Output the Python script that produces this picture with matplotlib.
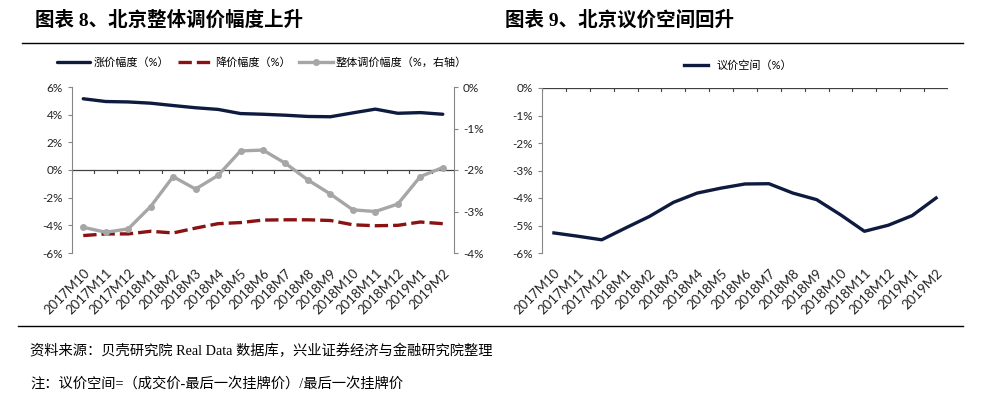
import matplotlib
matplotlib.use("Agg")
import matplotlib.pyplot as plt
from matplotlib.lines import Line2D
from matplotlib.ticker import FuncFormatter, FixedLocator

plt.rcParams['font.family'] = ['Lato', 'Noto Sans CJK SC', 'DejaVu Sans']

months = ["2017M10", "2017M11", "2017M12", "2018M1", "2018M2", "2018M3", "2018M4",
          "2018M5", "2018M6", "2018M7", "2018M8", "2018M9", "2018M10", "2018M11",
          "2018M12", "2019M1", "2019M2"]
rise = [5.15, 4.95, 4.92, 4.83, 4.66, 4.5, 4.38, 4.08, 4.03, 3.96, 3.87, 3.85,
        4.13, 4.4, 4.1, 4.15, 4.03]
fall = [-4.74, -4.62, -4.62, -4.43, -4.55, -4.2, -3.88, -3.8, -3.62, -3.6, -3.6,
        -3.65, -3.96, -4.03, -4.0, -3.76, -3.88]
overall = [-3.38, -3.5, -3.42, -2.88, -2.16, -2.46, -2.13, -1.54, -1.52, -1.84,
           -2.24, -2.58, -2.96, -3.0, -2.82, -2.16, -1.94]
bargain = [-5.27, -5.39, -5.52, -5.09, -4.67, -4.16, -3.82, -3.64, -3.49, -3.48,
           -3.82, -4.06, -4.61, -5.21, -4.99, -4.64, -4.0]

title_left = "图表 8、北京整体调价幅度上升"
title_right = "图表 9、北京议价空间回升"
lbl_rise = "涨价幅度（%）"
lbl_fall = "降价幅度（%）"
lbl_overall = "整体调价幅度（%，右轴）"
lbl_bargain = "议价空间（%）"
source = "资料来源：贝壳研究院 Real Data 数据库，兴业证券经济与金融研究院整理"
note = "注：议价空间=（成交价-最后一次挂牌价）/最后一次挂牌价"

BLUE = "#0E1B3F"
RED = "#8A1212"
GRAY = "#A6A6A6"
SPINE = "#868686"
W, H = 984, 403

fig = plt.figure(figsize=(W / 100, H / 100), dpi=100)

def fx(px):
    return px / W

def fy(py):
    return 1 - py / H

pct = FuncFormatter(lambda v, p: f"{v:.0f}%")
serif_cjk = ['Liberation Serif', 'Noto Sans CJK SC']

# headers
fig.text(fx(35), fy(20), title_left, fontsize=14, fontweight='bold',
         family=serif_cjk, va='center', ha='left')
fig.text(fx(505), fy(20), title_right, fontsize=14, fontweight='bold',
         family=serif_cjk, va='center', ha='left')
fig.add_artist(Line2D([fx(22), fx(963)], [fy(43), fy(43)], color='black', lw=1.0))
fig.add_artist(Line2D([fx(18), fx(963)], [fy(326), fy(326)], color='black', lw=1.0))
fig.text(fx(30), fy(351), source, fontsize=10.3, family=serif_cjk, va='center', ha='left')
fig.text(fx(30), fy(384), note, fontsize=10.3, family=serif_cjk, va='center', ha='left')

x = list(range(len(months)))

def style_common(ax):
    for s in ['top', 'bottom', 'right']:
        ax.spines[s].set_visible(False)
    ax.spines['left'].set_color(SPINE)
    ax.tick_params(axis='y', direction='out', color=SPINE, length=3, labelsize=8.5,
                   labelcolor='#222222')
    ax.set_xlim(-0.5, len(months) - 0.5)
    ax.xaxis.set_major_locator(FixedLocator(x))
    ax.set_xticklabels(months, rotation=45, ha='right', va='top',
                       rotation_mode='anchor', fontsize=9.5, color='#222222')
    ax.tick_params(axis='x', length=0, pad=10)
    ax.yaxis.set_major_formatter(pct)

# left chart
axL = fig.add_axes([fx(72), fy(253), fx(454 - 72), (253 - 87) / H])
style_common(axL)
axL.set_ylim(-6, 6)
axL.set_yticks([-6, -4, -2, 0, 2, 4, 6])
axL.axhline(0, color='#404040', lw=0.9, zorder=1)
for b in [i + 0.5 for i in range(-1, len(months))]:
    axL.plot([b, b], [0, -0.25], color='#404040', lw=0.8, zorder=1)
axR = axL.twinx()
axR.set_ylim(-4, 0)
axR.set_yticks([-4, -3, -2, -1, 0])
for s in ['top', 'bottom', 'left']:
    axR.spines[s].set_visible(False)
axR.spines['right'].set_color(SPINE)
axR.tick_params(axis='y', direction='out', color=SPINE, length=3, labelsize=8.5,
                labelcolor='#222222')
axR.yaxis.set_major_formatter(pct)

l1, = axL.plot(x, rise, color=BLUE, lw=2.4, solid_capstyle='round', zorder=3)
l2, = axL.plot(x, fall, color=RED, lw=2.4, ls=(0, (4, 1.5)), zorder=3)
l3, = axR.plot(x, overall, color=GRAY, lw=2.4, marker='o', ms=4, zorder=3)

fig.legend([l1, l2, l3], [lbl_rise, lbl_fall, lbl_overall], loc='center',
           bbox_to_anchor=(fx(262), fy(62)), ncol=3, frameon=False, fontsize=8,
           handlelength=3.0, columnspacing=0.8, handletextpad=0.3)

# right chart
ax2 = fig.add_axes([fx(542), fy(253), fx(948 - 542), (253 - 88) / H])
style_common(ax2)
ax2.set_ylim(-6, 0)
ax2.set_yticks([-6, -5, -4, -3, -2, -1, 0])
ax2.axhline(0, color='#404040', lw=0.9, zorder=1)
for b in [i + 0.5 for i in range(-1, len(months))]:
    ax2.plot([b, b], [0, -0.1], color='#404040', lw=0.8, zorder=1)
l4, = ax2.plot(x, bargain, color=BLUE, lw=2.4, zorder=3)
fig.legend([l4], [lbl_bargain], loc='center', bbox_to_anchor=(fx(738), fy(65)),
           frameon=False, fontsize=8, handlelength=2.2, handletextpad=0.8)

fig.savefig("out.png", dpi=100)
